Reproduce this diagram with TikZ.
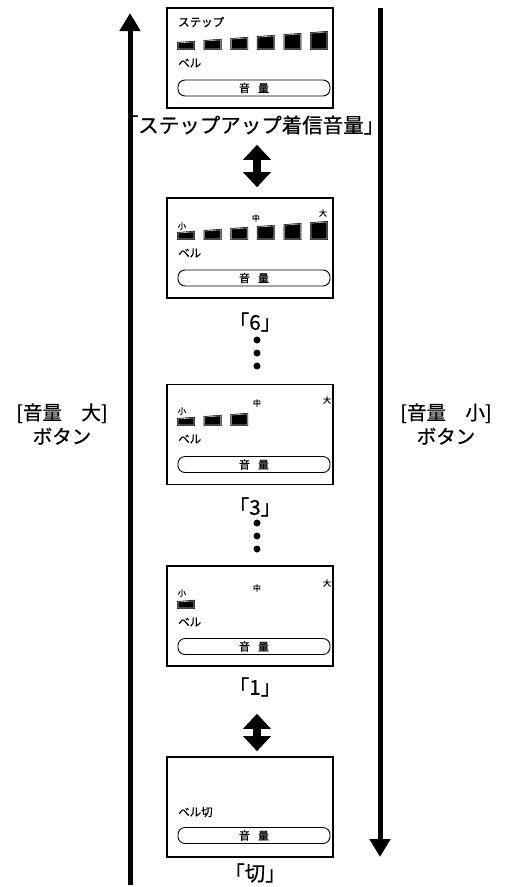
\documentclass[tikz,border=0pt]{standalone}
\usepackage{fontspec}
\setmainfont{Noto Sans CJK JP}[FakeBold=0.6]
\usetikzlibrary{arrows.meta,positioning,calc}
\tikzset{
 screen/.style={draw,line width=1.6pt,minimum width=166pt,minimum height=100pt,inner sep=0pt},
 volkey/.style={draw,line width=0.9pt,rounded corners=7pt,minimum width=152pt,minimum height=16pt,
   inner sep=0pt,font=\fontsize{11}{11}\selectfont},
 small/.style={anchor=west,inner sep=0pt,font=\fontsize{11.5}{12}\selectfont},
 tiny/.style={inner sep=0pt,font=\fontsize{8}{8}\selectfont},
 caption/.style={inner sep=0pt,font=\fontsize{20.5}{21}\selectfont},
 side/.style={align=center,inner sep=0pt,font=\fontsize{19.5}{24}\selectfont},
 dot/.style={circle,fill,inner sep=0pt,minimum size=7pt},
 bar/.style={fill=black,draw=black,line width=0.6pt,double=gray!45,double distance=0.6pt},
 longarr/.style={line width=5pt,-{Triangle[length=18pt,width=20pt]}},
 dblarr/.style={line width=8pt,{Triangle[length=15pt,width=27pt]}-{Triangle[length=15pt,width=27pt]}}
}
% volume bars: #1 count, #2 baseline
\newcommand{\volbars}[2]{%
 \foreach \i in {1,...,#1}{
  \pgfmathsetmacro\xa{178+26.6*(\i-1)}
  \pgfmathsetmacro\xb{\xa+16}
  \pgfmathsetmacro\ha{6+(\xa-178)*0.074}
  \pgfmathsetmacro\hb{6+(\xb-178)*0.074}
  \filldraw[bar] (\xa,#2) -- (\xb,#2) -- (\xb,#2-\hb) -- (\xa,#2-\ha) -- cycle;}}
\begin{document}
\begin{tikzpicture}[x=1pt,y=-1pt]
\useasboundingbox (0,0) rectangle (505,887);
% screens
\node[screen] (s1) at (250,58) {};
\node[screen] (s2) at (250,248) {};
\node[screen] (s3) at (250,434.5) {};
\node[screen] (s4) at (250,616) {};
\node[screen] (s5) at (250,807) {};
% step-up screen
\node[small] (t1) at (178,22) {ステップ};
\volbars{6}{49}
\node[small] (b1) at (178,63) {ベル};
\node[volkey] (k1) at (254,88) {音\hspace{8pt}量};
% level 6
\node[tiny] (m2a) at (182,226) {小};
\node[tiny] (m2b) at (256,218) {中};
\node[tiny] (m2c) at (323,213) {大};
\volbars{6}{239}
\node[small] (b2) at (178,253) {ベル};
\node[volkey] (k2) at (254,278) {音\hspace{8pt}量};
% level 3
\node[tiny] (m3a) at (182,411) {小};
\node[tiny] (m3b) at (257,403) {中};
\node[tiny] (m3c) at (327,400) {大};
\volbars{3}{425}
\node[small] (b3) at (178,439) {ベル};
\node[volkey] (k3) at (254,464.5) {音\hspace{8pt}量};
% level 1
\node[tiny] (m4a) at (182,593) {小};
\node[tiny] (m4b) at (257,588) {中};
\node[tiny] (m4c) at (327,583) {大};
\volbars{1}{608}
\node[small] (b4) at (178,622) {ベル};
\node[volkey] (k4) at (254,646.5) {音\hspace{8pt}量};
% off
\node[small] (b5) at (178,812) {ベル切};
\node[volkey] (k5) at (254,835.5) {音\hspace{8pt}量};
% captions
\node[caption] (c1) at (251,125) {「ステップアップ着信音量」};
\node[caption] (c2) at (255,322) {「6」};
\node[caption] (c3) at (255,507) {「3」};
\node[caption] (c4) at (255,687) {「1」};
\node[caption] (c5) at (255,873) {「切」};
\node[dot] (d1) at (257,340) {};
\node[dot] (d2) at (257,353) {};
\node[dot] (d3) at (257,366) {};
\node[dot] (d4) at (257,523) {};
\node[dot] (d5) at (257,536) {};
\node[dot] (d6) at (257,549) {};
\draw[dblarr,shorten <=10pt,shorten >=10pt] (c1.south -| d1) -- (s2.north -| d1);
\draw[dblarr,shorten <=17pt,shorten >=5pt] (c4.south -| d1) -- (s5.north -| d1);
% buttons
\coordinate (lu0) at (130,885);
\coordinate (lu1) at (130,13);
\coordinate (rd0) at (380,8);
\coordinate (rd1) at (380,857);
\draw[longarr] (lu0) -- (lu1);
\draw[longarr] (rd0) -- (rd1);
\node[side] (up) at (62,424) {[音量　大]\\ボタン};
\node[side] (dn) at (446,424) {[音量　小]\\ボタン};
\end{tikzpicture}
\end{document}
